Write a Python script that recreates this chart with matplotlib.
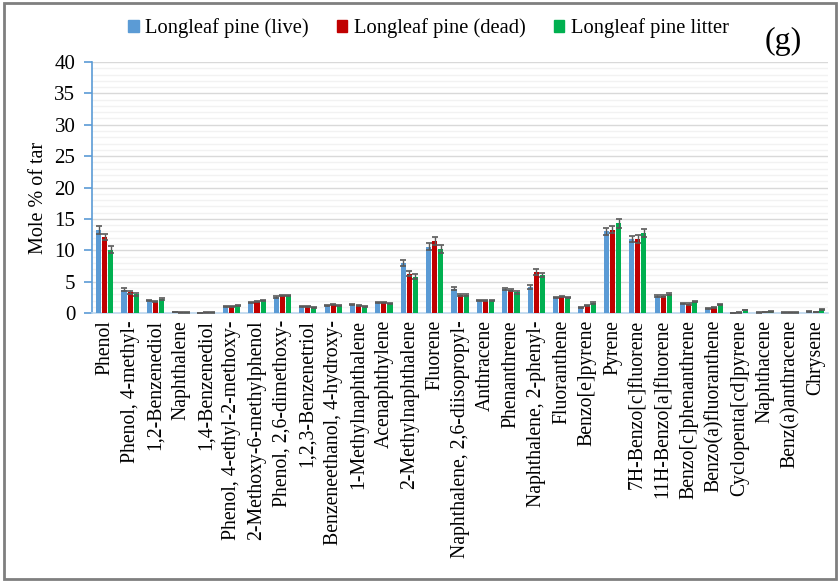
import numpy as np
import matplotlib.pyplot as plt
from matplotlib.patches import Patch, Rectangle

compounds = [
    "Phenol", "Phenol, 4-methyl-", "1,2-Benzenediol", "Naphthalene",
    "1,4-Benzenediol", "Phenol, 4-ethyl-2-methoxy-", "2-Methoxy-6-methylphenol",
    "Phenol, 2,6-dimethoxy-", "1,2,3-Benzenetriol", "Benzeneethanol, 4-hydroxy-",
    "1-Methylnaphthalene", "Acenaphthylene", "2-Methylnaphthalene", "Fluorene",
    "Naphthalene, 2,6-diisopropyl-", "Anthracene", "Phenanthrene",
    "Naphthalene, 2-phenyl-", "Fluoranthene", "Benzo[e]pyrene", "Pyrene",
    "7H-Benzo[c]fluorene", "11H-Benzo[a]fluorene", "Benzo[c]phenanthrene",
    "Benzo(a)fluoranthene", "Cyclopenta[cd]pyrene", "Naphthacene",
    "Benz(a)anthracene", "Chrysene",
]

live = [13.2, 3.7, 2.0, 0.15, 0.05, 1.0, 1.7, 2.5, 1.1, 1.2, 1.35, 1.7, 8.0, 10.6,
        3.9, 2.0, 3.85, 4.15, 2.5, 0.9, 13.0, 11.8, 2.75, 1.55, 0.7, 0.05, 0.1, 0.1, 0.3]
dead = [12.1, 3.3, 1.85, 0.12, 0.1, 1.1, 1.85, 2.8, 1.1, 1.35, 1.15, 1.7, 6.3, 11.5,
        2.95, 2.0, 3.65, 6.6, 2.6, 1.15, 13.3, 11.8, 2.75, 1.45, 0.95, 0.1, 0.15, 0.1, 0.2]
litter = [10.1, 3.0, 2.3, 0.12, 0.1, 1.15, 2.05, 2.8, 0.95, 1.2, 1.0, 1.55, 5.8, 10.2,
          2.9, 2.0, 3.3, 6.1, 2.5, 1.6, 14.3, 12.8, 3.1, 1.85, 1.4, 0.5, 0.3, 0.1, 0.65]

live_err = [0.6, 0.25, 0.1, 0.03, 0.02, 0.08, 0.1, 0.15, 0.08, 0.08, 0.1, 0.08, 0.45, 0.6,
            0.2, 0.08, 0.15, 0.3, 0.1, 0.08, 0.5, 0.5, 0.15, 0.1, 0.08, 0.02, 0.03, 0.03, 0.05]
dead_err = [0.5, 0.2, 0.1, 0.03, 0.02, 0.08, 0.1, 0.12, 0.08, 0.1, 0.08, 0.08, 0.45, 0.7,
            0.15, 0.08, 0.15, 0.45, 0.1, 0.08, 0.6, 0.6, 0.15, 0.1, 0.1, 0.03, 0.03, 0.03, 0.05]
litter_err = [0.6, 0.25, 0.15, 0.03, 0.02, 0.08, 0.1, 0.12, 0.08, 0.08, 0.08, 0.08, 0.4, 0.7,
              0.15, 0.08, 0.25, 0.35, 0.1, 0.1, 0.7, 0.6, 0.15, 0.12, 0.1, 0.05, 0.05, 0.03, 0.08]

series = [
    ("Longleaf pine (live)", live, live_err, "#5B9BD5"),
    ("Longleaf pine (dead)", dead, dead_err, "#C00000"),
    ("Longleaf pine litter", litter, litter_err, "#00B050"),
]

plt.rcParams['font.family'] = ['Liberation Serif', 'DejaVu Serif']

fig = plt.figure(figsize=(8.4, 5.82), dpi=100)
ax = fig.add_axes([0.1095, 0.462, 0.8765, 0.4315])

x = np.arange(len(compounds))
width = 0.2
offsets = [-0.24, 0.0, 0.24]

for (name, vals, errs, color), off in zip(series, offsets):
    ax.bar(x + off, vals, width, color=color, label=name, zorder=3,
           yerr=errs, error_kw=dict(ecolor="#595959", elinewidth=1.0,
                                    capsize=2.5, capthick=1.2, zorder=4))

ax.set_xlim(-0.5, len(compounds) - 0.5)
ax.set_ylim(0, 40)
ax.set_yticks(np.arange(0, 41, 5))
ax.set_yticks(np.arange(0, 41, 1), minor=True)
ax.grid(axis='y', which='major', color="#D9D9D9", linewidth=1.0, zorder=0)
ax.grid(axis='y', which='minor', color="#F2F2F2", linewidth=1.0, zorder=0)
ax.set_axisbelow(True)

for side in ("top", "right"):
    ax.spines[side].set_visible(False)
ax.spines["left"].set_color("#5B9BD5")
ax.spines["left"].set_linewidth(1.2)
ax.spines["bottom"].set_color("#BDD7EE")
ax.spines["bottom"].set_linewidth(1.2)

ax.tick_params(axis='y', which='major', length=6, width=1.2, color="#5B9BD5",
               labelsize=15, pad=6)
ax.tick_params(axis='y', which='minor', length=0)
ax.tick_params(axis='x', length=0, pad=5)
ax.set_xticks(x)
ax.set_xticklabels(compounds, rotation=90, fontsize=14.2)

ax.set_ylabel("Mole % of tar", fontsize=14.5)
ax.yaxis.set_label_coords(-0.06, 0.46)

handles = [Patch(color=c, label=n) for n, _, _, c in series]
fig.legend(handles=handles, loc="center", bbox_to_anchor=(0.51, 0.951), ncol=3,
           frameon=False, fontsize=14.8, handlelength=0.5, handleheight=0.5,
           handletextpad=0.3, columnspacing=1.4)

fig.text(0.932, 0.928, "(g)", fontsize=23, ha="center", va="center")

# outer frame around the whole figure
fig.patches.append(Rectangle((0.005, 0.006), 0.99, 0.988, transform=fig.transFigure,
                             fill=False, edgecolor="#7F7F7F", linewidth=2.0))

fig.savefig("out.png", dpi=100)
